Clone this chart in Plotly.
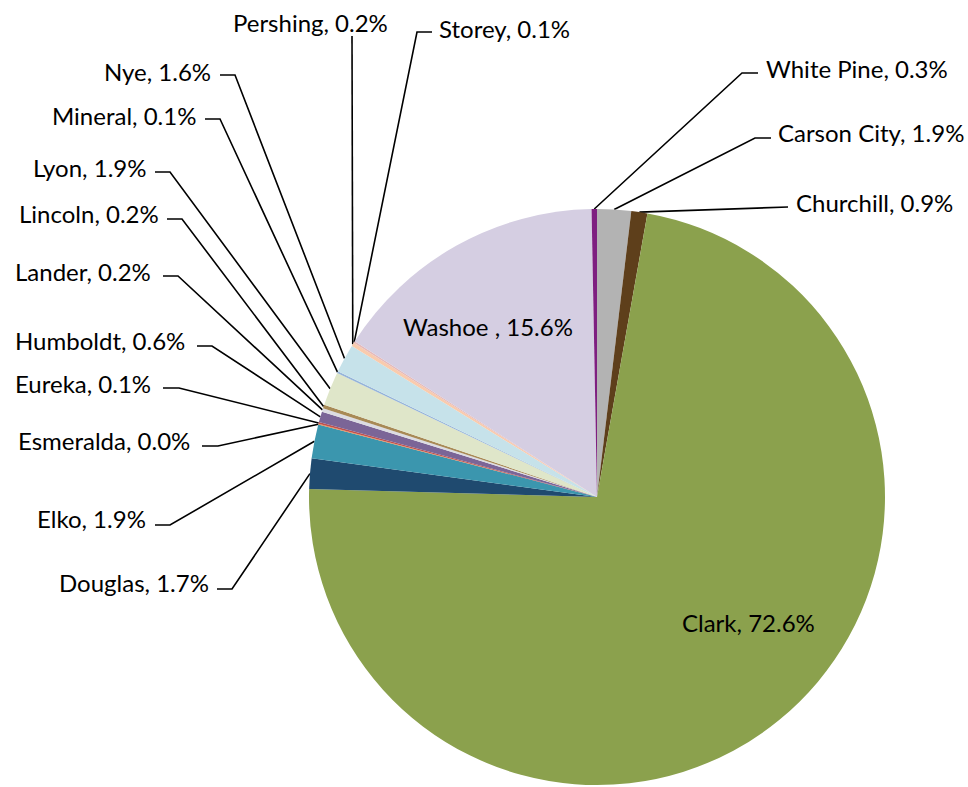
import math
import plotly.graph_objects as go

# ---- data ----
counties = ["Carson City", "Churchill", "Clark", "Douglas", "Elko", "Esmeralda",
            "Eureka", "Humboldt", "Lander", "Lincoln", "Lyon", "Mineral", "Nye",
            "Pershing", "Storey", "Washoe ", "White Pine"]
shares = [1.9, 0.9, 72.6, 1.7, 1.9, 0.04, 0.1, 0.6, 0.2, 0.2, 1.9, 0.1, 1.6,
          0.2, 0.1, 15.6, 0.3]
colors = ["#B3B3B3", "#5E3F1B", "#8BA14D", "#1F4A6F", "#3B96AE", "#F0883E",
          "#C0504D", "#7B6597", "#DCDCE2", "#A88A56", "#DFE6C9", "#96B4D9",
          "#C6E2EA", "#F9CBAD", "#E6B9B8", "#D5CEE2", "#7E1F80"]

# ---- layout ----
W, H = 968, 787
CX, CY, R = 597, 497, 288

# label placement: (elbow near x, elbow y, elbow far x, text x, text y, anchor)
outer = {
    "Pershing":   (352, 36, 352, 310, 22, "center"),
    "Storey":     (417, 32, 432, 437, 28, "left"),
    "Nye":        (235, 75, 220, 213, 71, "right"),
    "Mineral":    (220, 119, 205, 198, 115, "right"),
    "Lyon":       (170, 172, 155, 148, 167, "right"),
    "Lincoln":    (182, 219, 167, 161, 213, "right"),
    "Lander":     (178, 276, 163, 153, 271, "right"),
    "Humboldt":   (212, 346, 197, 187, 340, "right"),
    "Eureka":     (179, 388, 163, 153, 383, "right"),
    "Esmeralda":  (218, 446, 202, 192, 440, "right"),
    "Elko":       (170, 525, 155, 148, 518, "right"),
    "Douglas":    (232, 589, 217, 211, 582, "right"),
    "White Pine": (742, 73, 758, 764, 68, "left"),
    "Carson City": (755, 138, 771, 776, 132, "left"),
    "Churchill":  (782, 207, 788, 794, 202, "left"),
}
inner = {"Washoe ": (488, 326), "Clark": (748, 622)}

FONT = "Lato"
FS = 24

fig = go.Figure()
fig.add_trace(go.Pie(
    labels=counties, values=shares, sort=False, direction="clockwise",
    rotation=0, textinfo="none", hoverinfo="label+percent",
    marker=dict(colors=colors, line=dict(width=0)),
    domain=dict(x=[(CX - R) / W, (CX + R) / W],
                y=[(H - CY - R) / H, (H - CY + R) / H]),
    showlegend=False,
))

total = sum(shares)
cum = 0.0
lx, ly = [], []
annotations = []
for name, v in zip(counties, shares):
    mid = (cum + v / 2) / total * 2 * math.pi
    cum += v
    label = f"{name}, {v:.1f}%"
    px = CX + R * math.sin(mid)
    py = CY - R * math.cos(mid)
    key = name.strip()
    if name in inner:
        tx, ty = inner[name]
        annotations.append(dict(x=tx, y=ty, text=label, showarrow=False,
                                xref="x", yref="y", xanchor="center", yanchor="middle",
                                font=dict(family=FONT, size=FS, color="black")))
    elif key in outer:
        ex, ey, fx, tx, ty, anc = outer[key]
        lx += [px, ex, fx, None]
        ly += [py, ey, ey, None]
        annotations.append(dict(x=tx, y=ty, text=label, showarrow=False,
                                xref="x", yref="y", xanchor=anc, yanchor="middle",
                                font=dict(family=FONT, size=FS, color="black")))

fig.add_trace(go.Scatter(x=lx, y=ly, mode="lines", line=dict(color="black", width=1.6),
                         hoverinfo="skip", showlegend=False))

fig.update_layout(
    width=W, height=H, margin=dict(l=0, r=0, t=0, b=0),
    paper_bgcolor="white", plot_bgcolor="rgba(0,0,0,0)",
    xaxis=dict(range=[0, W], visible=False, fixedrange=True),
    yaxis=dict(range=[H, 0], visible=False, fixedrange=True),
    annotations=annotations,
    font=dict(family=FONT),
)

fig.write_html("out.html", config={"displayModeBar": False},
               post_script="document.body.style.margin='0';document.body.style.overflow='hidden';")
